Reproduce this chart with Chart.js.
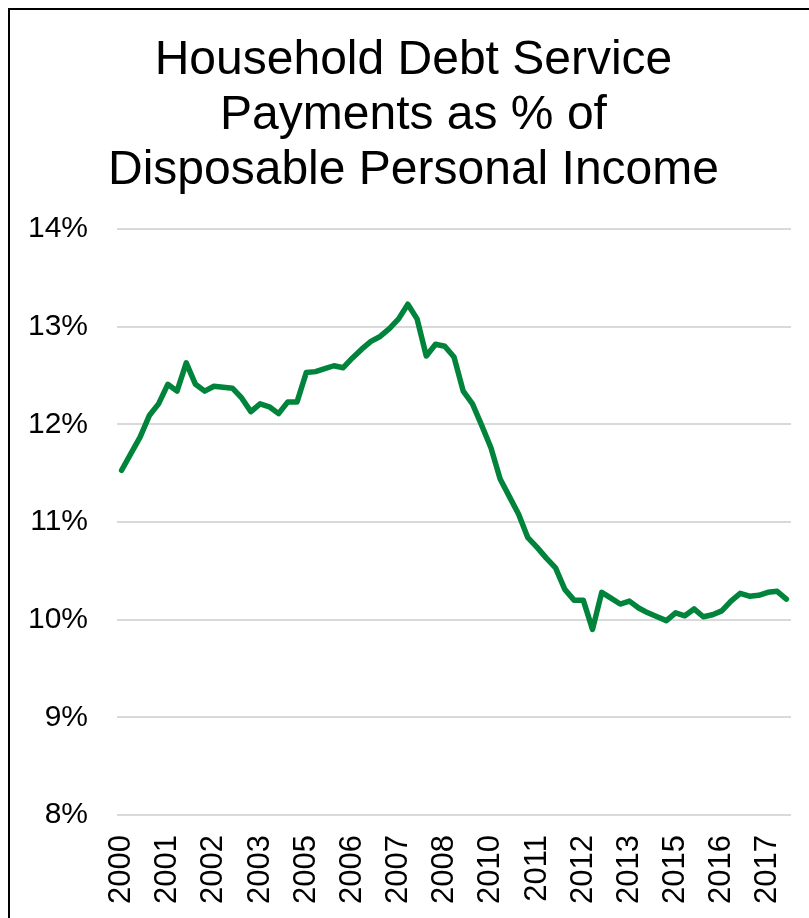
<!DOCTYPE html>
<html lang="en">
<head>
  <meta charset="UTF-8">
  <title>Household Debt Service Payments</title>
  <script src="https://cdn.jsdelivr.net/npm/chart.js"></script>
  <style>
    html, body {
      margin: 0;
      padding: 0;
      background: #fff;
      overflow: hidden;
    }
    /* frame of the original picture, cut off at right and bottom */
    .frame {
      position: absolute;
      left: 8px;
      top: 8px;
      width: 900px;
      height: 1000px;
      border: 2px solid #000;
    }
    .chart-box {
      position: absolute;
      left: 0;
      top: 0;
      width: 809px;
      height: 918px;
    }
  </style>
</head>
<body>
  <div class="frame"></div>
  <div class="chart-box">
    <canvas id="debtChart"></canvas>
  </div>

  <script>
    // quarterly categories, 2000 Q1 .. 2018 Q1
    const quarters = [
      '2000Q1','2000Q2','2000Q3','2000Q4','2001Q1','2001Q2','2001Q3','2001Q4',
      '2002Q1','2002Q2','2002Q3','2002Q4','2003Q1','2003Q2','2003Q3','2003Q4',
      '2004Q1','2004Q2','2004Q3','2004Q4','2005Q1','2005Q2','2005Q3','2005Q4',
      '2006Q1','2006Q2','2006Q3','2006Q4','2007Q1','2007Q2','2007Q3','2007Q4',
      '2008Q1','2008Q2','2008Q3','2008Q4','2009Q1','2009Q2','2009Q3','2009Q4',
      '2010Q1','2010Q2','2010Q3','2010Q4','2011Q1','2011Q2','2011Q3','2011Q4',
      '2012Q1','2012Q2','2012Q3','2012Q4','2013Q1','2013Q2','2013Q3','2013Q4',
      '2014Q1','2014Q2','2014Q3','2014Q4','2015Q1','2015Q2','2015Q3','2015Q4',
      '2016Q1','2016Q2','2016Q3','2016Q4','2017Q1','2017Q2','2017Q3','2017Q4',
      '2018Q1'
    ];

    // debt service payments, % of disposable personal income
    const debtService = [
      11.53, 11.70, 11.87, 12.09, 12.21, 12.41, 12.34, 12.63,
      12.41, 12.34, 12.39, 12.38, 12.37, 12.27, 12.13, 12.21,
      12.18, 12.11, 12.23, 12.23, 12.53, 12.54, 12.57, 12.60,
      12.58, 12.68, 12.77, 12.85, 12.90, 12.98, 13.08, 13.23,
      13.08, 12.70, 12.82, 12.80, 12.69, 12.34, 12.21, 11.99,
      11.76, 11.44, 11.26, 11.08, 10.84, 10.74, 10.63, 10.53,
      10.31, 10.20, 10.20, 9.90, 10.28, 10.22, 10.16, 10.19,
      10.12, 10.07, 10.03, 9.99, 10.07, 10.04, 10.11, 10.03,
      10.05, 10.09, 10.19, 10.27, 10.24, 10.25, 10.28, 10.29,
      10.21
    ];

    // Excel shows every 5th category label
    const tickEvery = 5;

    const titleLines = [
      'Household Debt Service',
      'Payments as % of',
      'Disposable Personal Income'
    ];

    const fontFamily = "'Liberation Sans', Arial, sans-serif";

    const ctx = document.getElementById('debtChart').getContext('2d');
    const chart = new Chart(ctx, {
      type: 'line',
      data: {
        labels: quarters,
        datasets: [{
          data: debtService,
          borderColor: '#00843c',
          borderWidth: 5.5,
          borderCapStyle: 'round',
          borderJoinStyle: 'round',
          pointRadius: 0,
          tension: 0,
          fill: false
        }]
      },
      options: {
        responsive: true,
        maintainAspectRatio: false,
        animation: false,
        layout: {
          // left/right chosen so the title centres where the original one does
          padding: { top: 33, left: 18, right: 0, bottom: 3 }
        },
        plugins: {
          legend: { display: false },
          tooltip: { enabled: false },
          title: {
            display: true,
            text: titleLines,
            color: '#000',
            font: { family: fontFamily, size: 48, weight: 'normal', lineHeight: 1.146 },
            padding: { top: 0, bottom: 31 }
          }
        },
        scales: {
          x: {
            offset: true,
            grid: { display: false },
            border: { display: false },
            afterFit: (s) => {
              s.height = 100;
              s.paddingLeft = 0;
              s.paddingRight = 18;
            },
            ticks: {
              autoSkip: false,
              minRotation: 90,
              maxRotation: 90,
              padding: 12,
              color: '#000',
              font: { family: fontFamily, size: 31 },
              callback: function (value, index) {
                if (index % tickEvery !== 0) return null;
                return this.getLabelForValue(value).slice(0, 4);
              }
            }
          },
          y: {
            min: 8,
            max: 14,
            grid: { color: '#d9d9d9', lineWidth: 2, drawTicks: false },
            border: { display: false },
            afterFit: (s) => {
              s.width = 99;
            },
            ticks: {
              stepSize: 1,
              padding: 29,
              color: '#000',
              font: { family: fontFamily, size: 30 },
              callback: (v) => v + '%'
            }
          }
        }
      }
    });
  </script>
</body>
</html>
